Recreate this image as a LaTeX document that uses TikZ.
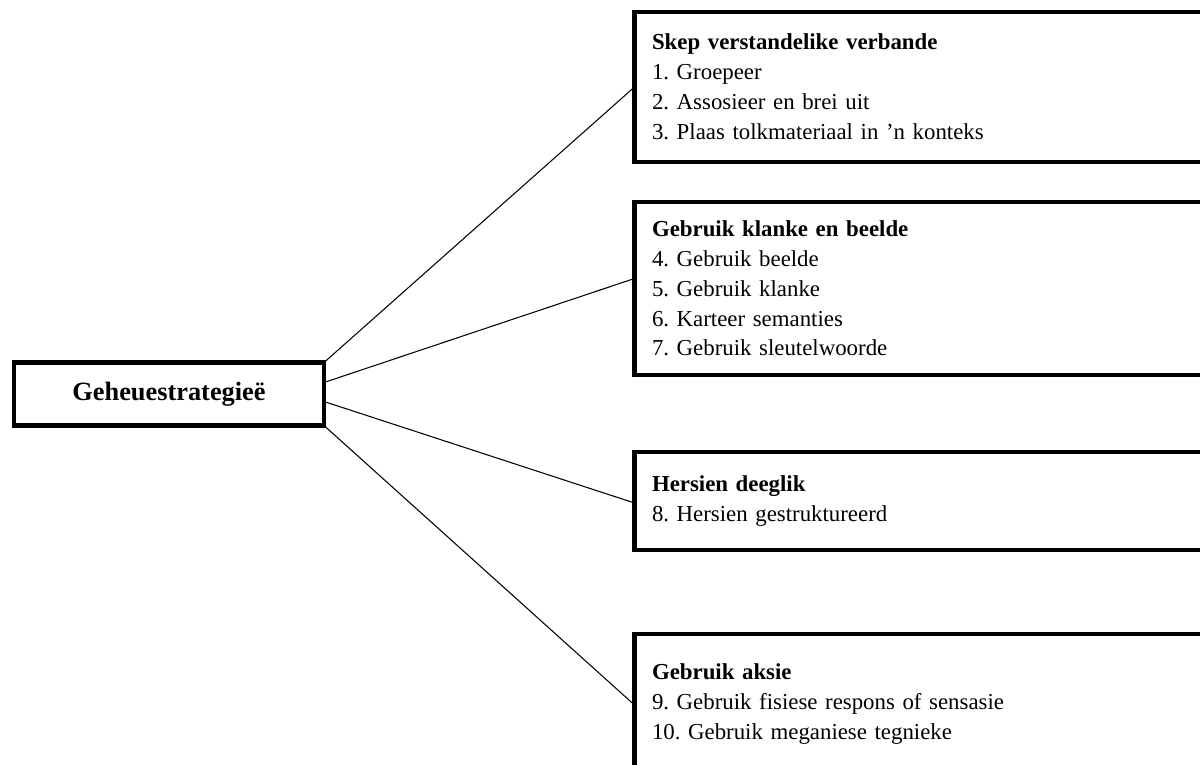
\documentclass[tikz,border=0pt]{standalone}
\usepackage{fontspec}
\setmainfont{Liberation Serif}
\usepackage{tikz}
\usetikzlibrary{calc}
\frenchspacing

\begin{document}
\begin{tikzpicture}[
    x=0.02cm, y=-0.02cm,
    root/.style={draw, line width=2.3pt, outer sep=0pt, minimum width=6.2cm, minimum height=1.26cm, font=\fontsize{15}{17}\selectfont\bfseries},
    branch/.style={draw, line width=2.3pt, outer sep=0pt, anchor=north west, text width=11.3cm, inner xsep=0.35cm, align=left, font=\fontsize{13}{17}\selectfont},
    link/.style={line width=0.6pt},
]
\useasboundingbox (0,0) rectangle (1200,764);
\clip (0,0) rectangle (1200,764);

% Root
\node[root] (geheue) at (169,394) {Geheuestrategieë};

% Branches
\node[branch, minimum height=3cm] (verbande) at (634.5,12) {\textbf{Skep verstandelike verbande}\\1. Groepeer\\2. Assosieer en brei uit\\3. Plaas tolkmateriaal in ’n konteks};
\node[branch, minimum height=3.46cm] (klanke) at (634.5,202) {\textbf{Gebruik klanke en beelde}\\4. Gebruik beelde\\5. Gebruik klanke\\6. Karteer semanties\\7. Gebruik sleutelwoorde};
\node[branch, minimum height=1.96cm] (hersien) at (634.5,452) {\textbf{Hersien deeglik}\\8. Hersien gestruktureerd};
\node[branch, minimum height=2.8cm] (aksie) at (634.5,634) {\textbf{Gebruik aksie}\\9. Gebruik fisiese respons of sensasie\\10. Gebruik meganiese tegnieke};

% --- Lines ---
\draw[link] (geheue.north east) -- (verbande.west);
\draw[link] ($(geheue.east)+(0,-11.5)$) -- ($(klanke.west)+(0,-10)$);
\draw[link] ($(geheue.east)+(0,7.5)$) -- ($(hersien.west)+(0,2)$);
\draw[link] (geheue.south east) -- ($(aksie.west)+(0,1)$);

\end{tikzpicture}
\end{document}
